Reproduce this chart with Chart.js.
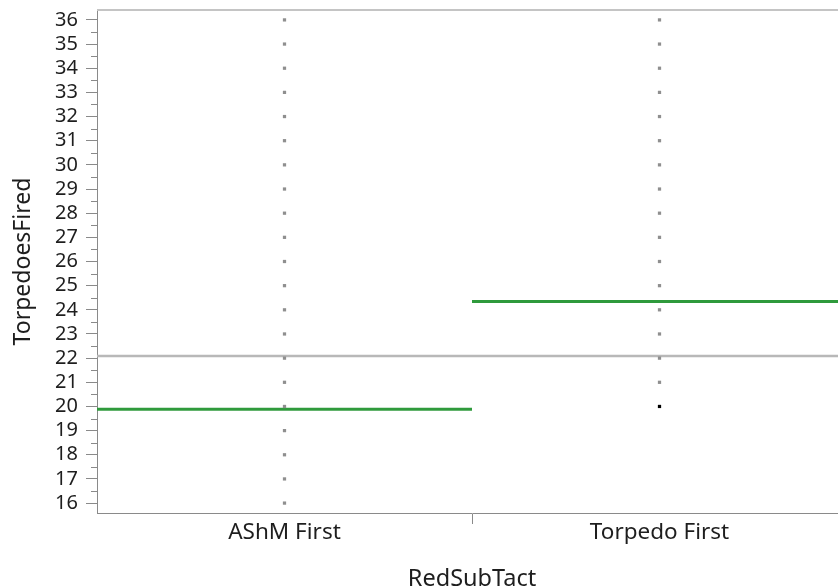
<!DOCTYPE html>
<html>
<head>
<meta charset="utf-8">
<script src="https://cdn.jsdelivr.net/npm/chart.js@4/dist/chart.umd.min.js"></script>
<style>
html,body{margin:0;padding:0;background:#fff;overflow:hidden;}
#wrap{width:838px;height:586px;position:relative;overflow:hidden;}
canvas{display:block;}
</style>
</head>
<body>
<div id="wrap"><canvas id="c" width="851" height="586"></canvas></div>
<script>
// ---- data ----
const categories = ['AShM First', 'Torpedo First'];
const ashmValues = [16, 17, 18, 19, 20, 21, 22, 23, 24, 25, 26, 27, 28, 29, 30, 31, 32, 33, 34, 35, 36];
const torpedoValues = [20, 21, 22, 23, 24, 25, 26, 27, 28, 29, 30, 31, 32, 33, 34, 35, 36];
const highlightedTorpedo = [20];
const groupMeans = [19.88, 24.34];
const grandMean = 22.09;
const yTicks = [16, 17, 18, 19, 20, 21, 22, 23, 24, 25, 26, 27, 28, 29, 30, 31, 32, 33, 34, 35, 36];
const yMinorTicks = [15.5, 16.5, 17.5, 18.5, 19.5, 20.5, 21.5, 22.5, 23.5, 24.5, 25.5, 26.5, 27.5, 28.5, 29.5, 30.5, 31.5, 32.5, 33.5, 34.5, 35.5];
const yTitle = 'TorpedoesFired';
const xTitle = 'RedSubTact';

const X_MIN = -0.5, X_MAX = 1.5;
const FONT = "'Noto Sans', 'Open Sans', sans-serif";

const pointData = [];
const pointColors = [];
ashmValues.forEach(v => { pointData.push({x: 0, y: v}); pointColors.push('#8f8f8f'); });
torpedoValues.forEach(v => {
  pointData.push({x: 1, y: v});
  pointColors.push(highlightedTorpedo.includes(v) ? '#000000' : '#8f8f8f');
});

const meanDatasets = groupMeans.map((m, i) => ({
  type: 'line',
  label: categories[i] + ' mean',
  data: [{x: i - 0.5, y: m}, {x: i + 0.5, y: m}],
  borderColor: '#2f9a3c',
  borderWidth: 3,
  pointRadius: 0,
  order: 1
}));

const frame = {
  id: 'frame',
  afterDraw(chart) {
    const {ctx, chartArea, scales} = chart;
    ctx.save();
    ctx.strokeStyle = '#c4c4c4';
    ctx.lineWidth = 2;
    ctx.beginPath();
    ctx.moveTo(chartArea.left, chartArea.top);
    ctx.lineTo(chartArea.right, chartArea.top);
    ctx.stroke();
    ctx.strokeStyle = '#8a8a8a';
    ctx.lineWidth = 1;
    yMinorTicks.forEach(v => {
      const y = Math.round(scales.y.getPixelForValue(v)) + 0.5;
      if (y < chartArea.top || y > chartArea.bottom) return;
      ctx.beginPath();
      ctx.moveTo(chartArea.left - 6, y);
      ctx.lineTo(chartArea.left, y);
      ctx.stroke();
    });
    ctx.restore();
  }
};

new Chart(document.getElementById('c'), {
  type: 'scatter',
  data: {
    datasets: [
      {
        type: 'line',
        label: 'Grand mean',
        data: [{x: X_MIN, y: grandMean}, {x: X_MAX, y: grandMean}],
        borderColor: '#b8b8b8',
        borderWidth: 2.5,
        pointRadius: 0,
        order: 2
      },
      ...meanDatasets,
      {
        type: 'scatter',
        label: 'TorpedoesFired',
        data: pointData,
        pointStyle: 'rect',
        pointRadius: 2.3,
        pointBorderWidth: 0,
        pointBackgroundColor: pointColors,
        pointBorderColor: pointColors,
        order: 0
      }
    ]
  },
  options: {
    responsive: false,
    animation: false,
    layout: {padding: {top: 10, left: 0, right: 0, bottom: 0}},
    plugins: {legend: {display: false}, tooltip: {enabled: false}},
    scales: {
      x: {
        type: 'linear',
        min: X_MIN,
        max: X_MAX,
        afterBuildTicks: s => { s.ticks = [{value: 0}, {value: 0.5}, {value: 1}]; },
        afterFit: s => { s.height = 73; s.paddingLeft = 0; s.paddingRight = 0; },
        grid: {
          drawOnChartArea: false,
          drawTicks: true,
          tickLength: 11,
          tickColor: ctx => (ctx.tick && ctx.tick.value === 0.5) ? '#8a8a8a' : 'rgba(0,0,0,0)'
        },
        border: {display: true, color: '#8a8a8a', width: 1},
        ticks: {
          autoSkip: false,
          maxRotation: 0,
          padding: -5,
          color: '#1e1e1e',
          font: {family: FONT, size: 22.5},
          callback: v => (v === 0 || v === 1) ? categories[v] : ''
        },
        title: {
          display: true,
          text: xTitle,
          color: '#1e1e1e',
          font: {family: FONT, size: 23.5, lineHeight: 0.6},
          padding: {top: 0, bottom: 0}
        }
      },
      y: {
        type: 'linear',
        min: 15.59,
        max: 36.41,
        afterBuildTicks: s => { s.ticks = yTicks.map(v => ({value: v})); },
        afterFit: s => { s.width = 97; s.paddingTop = 0; s.paddingBottom = 0; },
        grid: {drawOnChartArea: false, drawTicks: true, tickLength: 11, tickColor: '#8a8a8a'},
        border: {display: true, color: '#8a8a8a', width: 1},
        ticks: {
          autoSkip: false,
          padding: 8,
          color: '#1e1e1e',
          font: {family: FONT, size: 20, lineHeight: 1},
          callback: v => String(v)
        },
        title: {
          display: true,
          text: yTitle,
          color: '#1e1e1e',
          font: {family: FONT, size: 23, lineHeight: 1.2},
          padding: {top: 10, bottom: 0}
        }
      }
    }
  },
  plugins: [frame]
});
</script>
</body>
</html>
